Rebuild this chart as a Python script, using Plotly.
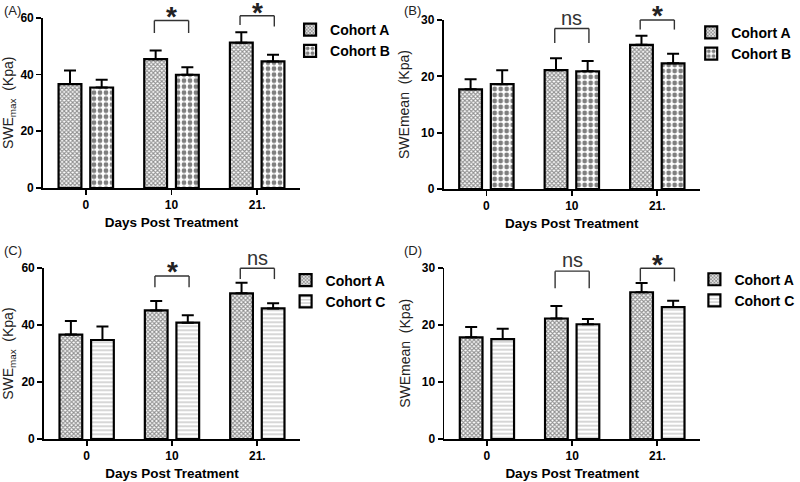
import plotly.graph_objects as go

# ---------------- data ----------------
days = ["0", "10", "21."]

# Panel (A): SWEmax, Cohort A vs Cohort B
pA_cohortA = [36.6, 45.4, 51.2]
pA_cohortA_err = [4.8, 3.0, 3.7]
pA_cohortB = [35.4, 39.9, 44.6]
pA_cohortB_err = [2.7, 2.6, 2.3]

# Panel (B): SWEmean, Cohort A vs Cohort B
pB_cohortA = [17.7, 21.1, 25.6]
pB_cohortA_err = [1.8, 2.1, 1.6]
pB_cohortB = [18.6, 20.9, 22.3]
pB_cohortB_err = [2.5, 1.8, 1.7]

# Panel (C): SWEmax, Cohort A vs Cohort C
pC_cohortA = [36.7, 45.2, 51.2]
pC_cohortA_err = [4.8, 3.3, 3.7]
pC_cohortC = [34.8, 40.9, 45.9]
pC_cohortC_err = [4.7, 2.6, 1.8]

# Panel (D): SWEmean, Cohort A vs Cohort C
pD_cohortA = [17.8, 21.1, 25.7]
pD_cohortA_err = [1.8, 2.2, 1.6]
pD_cohortC = [17.5, 20.1, 23.1]
pD_cohortC_err = [1.8, 0.9, 1.1]

# significance brackets: (category index, top, left leg end, right leg end, label, label centre)
pA_sig = [(1, 59.0, 54.6, 54.6, "*", 61.7), (2, 60.7, 57.4, 56.9, "*", 63.1)]
pB_sig = [(1, 28.5, 25.9, 25.9, "ns", 30.4), (2, 30.0, 28.3, 28.3, "*", 31.5)]
pC_sig = [(1, 57.3, 53.3, 53.3, "*", 60.3), (2, 60.0, 56.2, 56.2, "ns", 63.5)]
pD_sig = [(1, 29.4, 26.4, 26.4, "ns", 31.3), (2, 29.9, 27.6, 27.6, "*", 31.3)]

y_title_max = "SWE<sub>max</sub>\u00a0\u00a0(Kpa)"
y_title_mean = "SWEmean\u00a0\u00a0(Kpa)"
x_title = "Days Post Treatment"

# ---------------- styles ----------------
FONT = "Liberation Sans, Arial, sans-serif"
pat_A = dict(shape="x", size=3, solidity=0.6, fgcolor="#222222", bgcolor="white")
pat_B = dict(shape=".", size=6, solidity=0.5, fgcolor="black", bgcolor="white")
pat_C = dict(shape="-", size=4, solidity=0.3, fgcolor="#777777", bgcolor="white")

panels = [
    dict(tag="(A)", ax="", leg="legend", ymax=60, dtick=20, ytitle=y_title_max,
         s1=("Cohort A", pA_cohortA, pA_cohortA_err, pat_A),
         s2=("Cohort B", pA_cohortB, pA_cohortB_err, pat_B), sig=pA_sig,
         xd=[0.05375, 0.375], yd=[0.6100, 0.9633], legxy=(0.3626, 0.971), tagxy=(0.002, 0.997)),
    dict(tag="(B)", ax="2", leg="legend2", ymax=30, dtick=10, ytitle=y_title_mean,
         s1=("Cohort A", pB_cohortA, pB_cohortA_err, pat_A),
         s2=("Cohort B", pB_cohortB, pB_cohortB_err, pat_B), sig=pB_sig,
         xd=[0.5546, 0.875], yd=[0.6079, 0.9585], legxy=(0.864, 0.965), tagxy=(0.502, 0.997)),
    dict(tag="(C)", ax="3", leg="legend3", ymax=60, dtick=20, ytitle=y_title_max,
         s1=("Cohort A", pC_cohortA, pC_cohortA_err, pat_A),
         s2=("Cohort C", pC_cohortC, pC_cohortC_err, pat_C), sig=pC_sig,
         xd=[0.055, 0.375], yd=[0.0892, 0.4434], legxy=(0.357, 0.451), tagxy=(0.002, 0.500)),
    dict(tag="(D)", ax="4", leg="legend4", ymax=30, dtick=10, ytitle=y_title_mean,
         s1=("Cohort A", pD_cohortA, pD_cohortA_err, pat_A),
         s2=("Cohort C", pD_cohortC, pD_cohortC_err, pat_C), sig=pD_sig,
         xd=[0.5554, 0.875], yd=[0.0892, 0.4446], legxy=(0.868, 0.453), tagxy=(0.502, 0.500)),
]

fig = go.Figure()
shapes = []
annotations = []
layout = dict(
    width=800, height=482,
    margin=dict(l=0, r=0, t=0, b=0, autoexpand=False),
    paper_bgcolor="white", plot_bgcolor="white",
    barmode="group", bargap=0.26, bargroupgap=0.28,
    font=dict(family=FONT, color="black"),
    showlegend=True,
)

for p in panels:
    xa = "x" + p["ax"]
    ya = "y" + p["ax"]
    for name, vals, errs, pat in (p["s1"], p["s2"]):
        fig.add_trace(go.Bar(
            x=days, y=vals, name=name, xaxis=xa, yaxis=ya, legend=p["leg"],
            marker=dict(color="white", pattern=pat, line=dict(color="black", width=2.2)),
            error_y=dict(type="data", array=errs, arrayminus=[0] * len(errs), symmetric=False,
                         color="black", thickness=2, width=6),
            hoverinfo="skip",
        ))
    layout["xaxis" + p["ax"]] = dict(
        domain=p["xd"], anchor=ya, type="category", range=[-0.5, 2.5],
        showline=True, linecolor="black", linewidth=1.8,
        ticks="outside", ticklen=5, tickwidth=1.8, tickcolor="black",
        tickfont=dict(size=12, weight="bold", family=FONT),
        title=dict(text=x_title, font=dict(size=13.5, weight="bold", family=FONT), standoff=6),
        showgrid=False, zeroline=False, fixedrange=True,
    )
    layout["yaxis" + p["ax"]] = dict(
        domain=p["yd"], anchor=xa, range=[0, p["ymax"]], dtick=p["dtick"],
        showline=True, linecolor="black", linewidth=1.8,
        ticks="outside", ticklen=5, tickwidth=1.8, tickcolor="black",
        tickfont=dict(size=12, weight="bold", family=FONT),
        title=dict(text=p["ytitle"], font=dict(size=14, family=FONT, color="#222222"), standoff=8),
        showgrid=False, zeroline=False, fixedrange=True,
    )
    layout[p["leg"]] = dict(
        x=p["legxy"][0], y=p["legxy"][1], xanchor="left", yanchor="top",
        xref="paper", yref="paper", bgcolor="rgba(0,0,0,0)",
        font=dict(size=14, weight="bold", family=FONT, color="black"),
        tracegroupgap=0,
    )
    annotations.append(dict(
        text=p["tag"], x=p["tagxy"][0], y=p["tagxy"][1], xref="paper", yref="paper",
        xanchor="left", yanchor="top", showarrow=False,
        font=dict(size=13, family=FONT, color="#222222"),
    ))
    ydom = ya + " domain"
    half = 0.2
    for (ci, top, lbot, rbot, lab, laby) in p["sig"]:
        ymax = p["ymax"]
        line = dict(color="#333333", width=1.4)
        shapes.append(dict(type="line", xref=xa, yref=ydom, x0=ci - half, x1=ci + half,
                           y0=top / ymax, y1=top / ymax, line=line))
        shapes.append(dict(type="line", xref=xa, yref=ydom, x0=ci - half, x1=ci - half,
                           y0=top / ymax, y1=lbot / ymax, line=line))
        shapes.append(dict(type="line", xref=xa, yref=ydom, x0=ci + half, x1=ci + half,
                           y0=top / ymax, y1=rbot / ymax, line=line))
        if lab == "*":
            annotations.append(dict(text="*", x=ci, y=laby / ymax, xref=xa, yref=ydom,
                                    showarrow=False, yanchor="middle", yshift=-4,
                                    font=dict(size=28, weight="bold", family=FONT, color="#222222")))
        else:
            annotations.append(dict(text=lab, x=ci, y=laby / ymax, xref=xa, yref=ydom,
                                    showarrow=False, yanchor="middle", yshift=0,
                                    font=dict(size=20, family=FONT, color="#333333")))

layout["shapes"] = shapes
layout["annotations"] = annotations
fig.update_layout(**layout)
fig.write_html("out.html",
               config={"displayModeBar": False, "staticPlot": True},
               post_script="document.body.style.margin='0';document.body.style.padding='0';")
